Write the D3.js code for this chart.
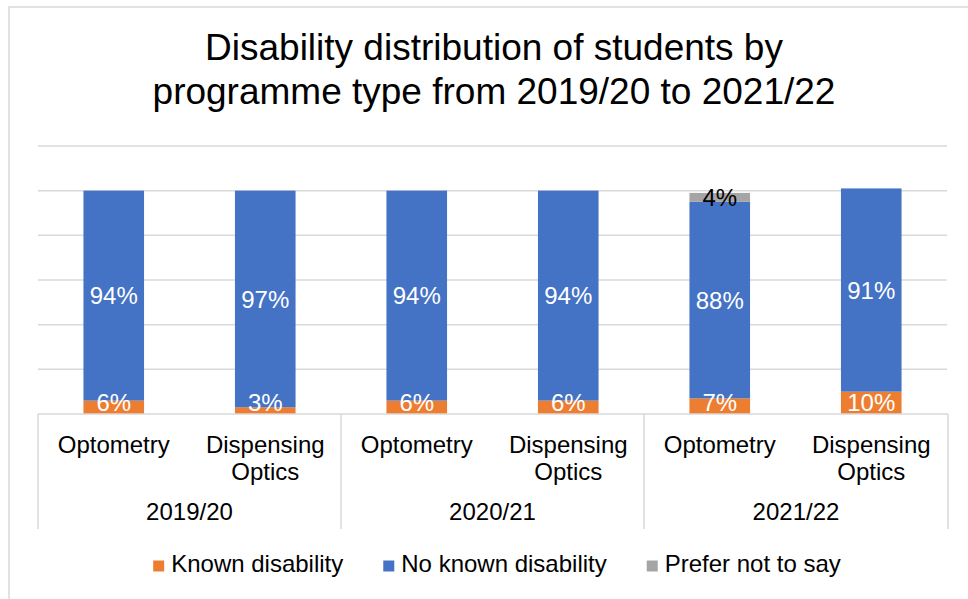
<!DOCTYPE html>
<html>
<head>
<meta charset="utf-8">
<script src="https://cdn.jsdelivr.net/npm/d3@7"></script>
<style>
  html, body { margin: 0; padding: 0; background: #fff; }
  svg { display: block; font-family: "Liberation Sans", Arial, sans-serif; }
</style>
</head>
<body>
<svg id="chart" width="968" height="599"></svg>
<script>
// Academic years and programme types (two-level category axis)
const years = ["2019/20", "2020/21", "2021/22"];
const programmes = ["Optometry", "Dispensing Optics"];

// Share of students (%) per year × programme, in axis order
const knownDisability   = [6, 3, 6, 6, 7, 10];
const noKnownDisability = [94, 97, 94, 94, 88, 91];
const preferNotToSay    = [0, 0, 0, 0, 4, 0];

const seriesNames  = ["Known disability", "No known disability", "Prefer not to say"];
const seriesColors = ["#ED7D31", "#4472C4", "#A5A5A5"];
const labelColors  = ["#ffffff", "#ffffff", "#000000"];

const gridTicks = [0, 0.2, 0.4, 0.6, 0.8, 1.0, 1.2];

const titleLines = ["Disability distribution of students by",
                    "programme type from 2019/20 to 2021/22"];

// Build rows for the stack
const rows = [];
years.forEach((yr, i) => programmes.forEach((pg, j) => {
  const k = i * programmes.length + j;
  rows.push({
    key: yr + "|" + pg, year: yr, programme: pg,
    "Known disability": knownDisability[k] / 100,
    "No known disability": noKnownDisability[k] / 100,
    "Prefer not to say": preferNotToSay[k] / 100
  });
}));

const svg = d3.select("#chart");
const grey = "#D9D9D9";

// Chart frame
svg.append("rect")
  .attr("x", 9).attr("y", 7).attr("width", 990).attr("height", 640)
  .attr("fill", "#fff").attr("stroke", grey).attr("stroke-width", 1.5);

// Title
svg.append("text")
  .attr("text-anchor", "middle")
  .attr("font-size", 37)
  .attr("fill", "#000")
  .selectAll("tspan").data(titleLines).join("tspan")
  .attr("x", 494)
  .attr("y", (d, i) => 60 + i * 44)
  .text(d => d);

const plot = { left: 38, right: 947, top: 146, bottom: 414 };

const x = d3.scaleBand()
  .domain(rows.map(d => d.key))
  .range([plot.left, plot.right])
  .paddingInner(0.6)
  .paddingOuter(0.3);

const y = d3.scaleLinear().domain([0, 1.2]).range([plot.bottom, plot.top]);

// Horizontal gridlines
svg.append("g").selectAll("line").data(gridTicks.filter(t => t > 0)).join("line")
  .attr("x1", plot.left).attr("x2", plot.right)
  .attr("y1", d => y(d)).attr("y2", d => y(d))
  .attr("stroke", grey).attr("stroke-width", 1.5);

// Stacked bars
const stack = d3.stack().keys(seriesNames)(rows);

svg.append("clipPath").attr("id", "plotClip")
  .append("rect")
  .attr("x", plot.left).attr("y", 0)
  .attr("width", plot.right - plot.left).attr("height", plot.bottom);

const layers = svg.append("g").selectAll("g").data(stack).join("g")
  .attr("fill", (d, i) => seriesColors[i]);

layers.selectAll("rect").data(d => d).join("rect")
  .attr("x", d => x(d.data.key))
  .attr("width", x.bandwidth())
  .attr("y", d => y(d[1]))
  .attr("height", d => y(d[0]) - y(d[1]));

// Data labels, centred in each segment and kept above the axis line
const fs = 24;
const labelG = svg.append("g").attr("clip-path", "url(#plotClip)")
  .attr("font-size", fs).attr("text-anchor", "middle");
stack.forEach((layer, i) => {
  labelG.selectAll(null).data(layer.filter(d => d[1] - d[0] > 0)).join("text")
    .attr("x", d => x(d.data.key) + x.bandwidth() / 2)
    .attr("y", d => {
      const mid = (y(d[0]) + y(d[1])) / 2;
      const cy = Math.min(mid, plot.bottom - 12);
      return cy + fs * 0.358;
    })
    .attr("fill", labelColors[i])
    .text(d => Math.round((d[1] - d[0]) * 100) + "%");
});

// Category axis: baseline and group dividers
const axisBottom = 529;
const axisG = svg.append("g").attr("stroke", grey).attr("stroke-width", 1.5);
axisG.append("line")
  .attr("x1", plot.left).attr("x2", plot.right + 1)
  .attr("y1", plot.bottom).attr("y2", plot.bottom);

const groupEdges = d3.range(years.length + 1).map(i =>
  i === 0 ? plot.left : i === years.length ? plot.right + 1
          : (x(rows[i * programmes.length - 1].key) + x.bandwidth() + x(rows[i * programmes.length].key)) / 2);
axisG.selectAll(null).data(groupEdges).join("line")
  .attr("x1", d => d).attr("x2", d => d)
  .attr("y1", plot.bottom).attr("y2", axisBottom);

// Programme labels (wrapped onto two lines where needed)
const catG = svg.append("g").attr("font-size", fs).attr("text-anchor", "middle").attr("fill", "#000");
rows.forEach(r => {
  const words = r.programme.split(" ");
  const t = catG.append("text");
  words.forEach((w, i) => {
    t.append("tspan")
      .attr("x", x(r.key) + x.bandwidth() / 2)
      .attr("y", 453 + i * 27)
      .text(w);
  });
});

// Year labels
catG.selectAll(null).data(years).join("text")
  .attr("x", (d, i) => (groupEdges[i] + groupEdges[i + 1]) / 2)
  .attr("y", 520)
  .text(d => d);

// Legend, centred under the plot
const legend = svg.append("g").attr("font-size", fs);
const items = legend.selectAll("g").data(seriesNames).join("g");
items.append("rect")
  .attr("width", 11).attr("height", 11)
  .attr("y", -11.5)
  .attr("fill", (d, i) => seriesColors[i]);
items.append("text")
  .attr("x", 18).attr("y", 0)
  .text(d => d);
let cursor = 0;
items.each(function () {
  const w = d3.select(this).select("text").node().getComputedTextLength();
  d3.select(this).attr("transform", `translate(${cursor},0)`);
  cursor += 18 + w + 40;
});
const totalW = cursor - 40;
legend.attr("transform", `translate(${497 - totalW / 2},572)`);
</script>
</body>
</html>
